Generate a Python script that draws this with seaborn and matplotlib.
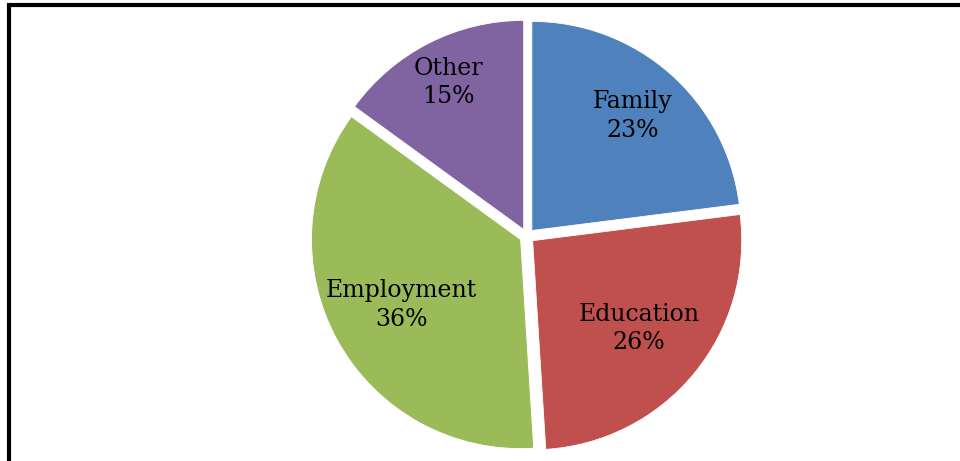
"""
Pie chart of reasons: Family / Education / Employment / Other.
"""

import numpy as np
import matplotlib.pyplot as plt
import seaborn as sns
from matplotlib.patches import Rectangle

CATEGORIES = ['Family', 'Education', 'Employment', 'Other']
SHARES = [23, 26, 36, 15]
COLORS = ['#4F81BD', '#C0504D', '#9BBB59', '#8064A2']

# radial position of each label, as a fraction of the radius
LABEL_DIST = [0.73, 0.66, 0.65, 0.79]

sns.set_theme(style="white")
plt.rcParams['font.family'] = ['DejaVu Serif']

fig = plt.figure(figsize=(9.6, 4.61), dpi=100)
fig.patch.set_facecolor('white')

# square axes centred on the pie
cx, cy, half = 527, 461 - 236, 230
ax = fig.add_axes([(cx - half) / 960, (cy - half) / 461, 2 * half / 960, 2 * half / 461])

wedges, _ = ax.pie(
    SHARES,
    colors=COLORS,
    startangle=90,
    counterclock=False,
    explode=[0.035] * len(SHARES),
    wedgeprops=dict(linewidth=0.6, edgecolor='white'),
)
ax.set_xlim(-1.1, 1.1)
ax.set_ylim(-1.1, 1.1)
ax.set_aspect('equal')
ax.axis('off')

total = sum(SHARES)
for w, name, val, d in zip(wedges, CATEGORIES, SHARES, LABEL_DIST):
    mid = np.deg2rad((w.theta1 + w.theta2) / 2)
    ox, oy = w.center
    ax.text(
        ox + d * np.cos(mid), oy + d * np.sin(mid),
        f"{name}\n{round(100 * val / total)}%",
        ha='center', va='center', multialignment='center',
        fontsize=17, color='black', linespacing=1.3,
    )

# black frame (left and top edges visible in the crop)
fig.add_artist(Rectangle(
    (9 / 960, -0.05), 1.2, (461 - 5) / 461 + 0.05,
    transform=fig.transFigure, fill=False, edgecolor='black', linewidth=3,
))

plt.savefig('out.png', dpi=100)
plt.close()
